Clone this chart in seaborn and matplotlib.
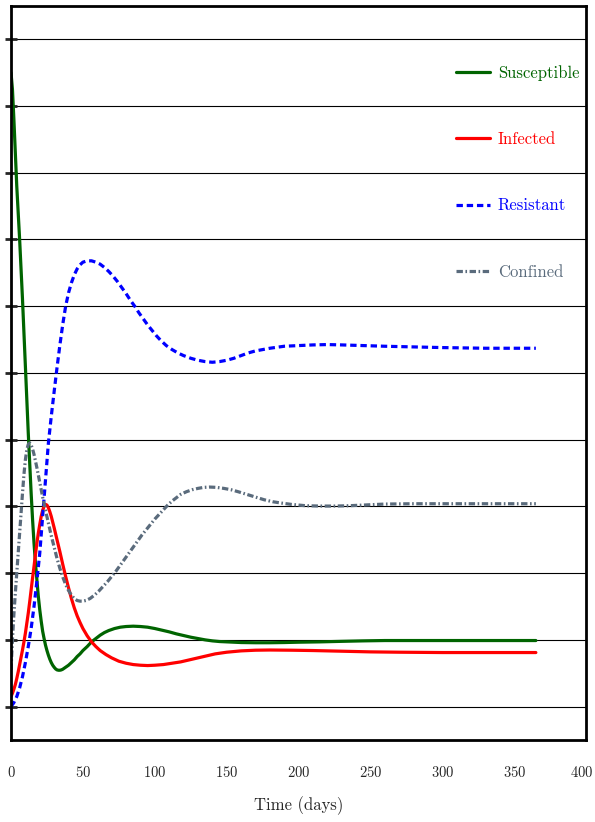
import numpy as np
import pandas as pd
import seaborn as sns
import matplotlib
matplotlib.use("Agg")
from matplotlib import pyplot as plt
from matplotlib import transforms

# values (time in days, population in grid units)
t_sus = [0, 1, 2, 3, 4, 5, 6, 7, 8, 9, 10, 11, 12, 13, 14, 15, 16, 17, 18, 19,
         20, 21, 22, 23, 24, 25, 26, 27, 28, 29, 30, 31, 32, 33, 34, 35, 36, 38, 40, 42,
         44, 46, 48, 50, 53, 56, 59, 62, 65, 68, 72, 76, 80, 85, 90, 95, 100, 105, 110, 115,
         120, 125, 130, 135, 140, 145, 150, 160, 170, 180, 190, 200, 215, 230, 245, 260, 280, 300, 330, 365]
sus = [9.5, 9.25, 8.8, 8.3, 7.8, 7.4, 7.0, 6.55, 6.1, 5.6, 5.1, 4.6, 4.1, 3.65, 3.2, 2.8, 2.45, 2.15, 1.9, 1.65,
       1.45, 1.28, 1.13, 1.02, 0.92, 0.84, 0.77, 0.71, 0.66, 0.62, 0.59, 0.565, 0.55, 0.545, 0.545, 0.55, 0.56, 0.59, 0.62, 0.66,
       0.70, 0.75, 0.79, 0.84, 0.9, 0.97, 1.02, 1.07, 1.11, 1.14, 1.17, 1.19, 1.2, 1.205, 1.2, 1.19, 1.17, 1.145, 1.12, 1.09,
       1.065, 1.04, 1.02, 1.0, 0.985, 0.975, 0.97, 0.96, 0.957, 0.957, 0.96, 0.965, 0.97, 0.978, 0.985, 0.99, 0.99, 0.99, 0.99, 0.99]

t_inf = [0, 1, 2, 3, 4, 5, 6, 7, 8, 9, 10, 11, 12, 13, 14, 15, 16, 17, 18, 19,
         20, 21, 22, 23, 24, 25, 26, 27, 28, 30, 32, 34, 36, 38, 40, 42, 44, 46, 48, 50,
         53, 56, 59, 62, 66, 70, 75, 80, 85, 90, 95, 100, 106, 112, 118, 124, 130, 136, 142, 150,
         160, 170, 180, 195, 210, 230, 250, 270, 300, 330, 365]
inf = [0.15, 0.2, 0.26, 0.33, 0.42, 0.52, 0.63, 0.74, 0.85, 0.97, 1.1, 1.25, 1.4, 1.57, 1.75, 1.93, 2.1, 2.28, 2.45, 2.6,
       2.73, 2.85, 2.94, 3.0, 3.03, 3.02, 2.98, 2.92, 2.85, 2.68, 2.5, 2.32, 2.13, 1.95, 1.78, 1.62, 1.48, 1.36, 1.26, 1.17,
       1.06, 0.97, 0.9, 0.84, 0.78, 0.73, 0.68, 0.65, 0.63, 0.62, 0.615, 0.62, 0.63, 0.65, 0.67, 0.7, 0.73, 0.76, 0.79, 0.815,
       0.835, 0.845, 0.848, 0.845, 0.84, 0.83, 0.82, 0.815, 0.81, 0.81, 0.81]

t_res = [0, 2, 4, 6, 8, 10, 12, 14, 16, 18, 20, 22, 24, 26, 28, 30, 32, 34, 36, 38,
         40, 42, 44, 46, 48, 50, 53, 56, 59, 62, 65, 68, 71, 74, 77, 80, 83, 86, 89, 92,
         95, 98, 101, 104, 108, 112, 116, 120, 125, 130, 135, 140, 145, 150, 155, 160, 165, 170, 180, 190,
         200, 210, 220, 230, 245, 260, 280, 300, 330, 365]
res = [0, 0.06, 0.15, 0.28, 0.45, 0.66, 0.9, 1.17, 1.5, 1.88, 2.3, 2.85, 3.4, 3.95, 4.35, 4.72, 5.08, 5.42, 5.73, 6.0,
       6.2, 6.35, 6.47, 6.56, 6.62, 6.66, 6.68, 6.68, 6.66, 6.63, 6.58, 6.52, 6.45, 6.37, 6.28, 6.19, 6.09, 6.0, 5.9, 5.81,
       5.72, 5.64, 5.56, 5.49, 5.41, 5.35, 5.3, 5.26, 5.22, 5.19, 5.17, 5.16, 5.17, 5.19, 5.22, 5.26, 5.3, 5.33, 5.37, 5.4,
       5.41, 5.42, 5.425, 5.42, 5.41, 5.4, 5.39, 5.38, 5.37, 5.37]

t_con = [0, 1, 2, 3, 4, 5, 6, 7, 8, 9, 10, 11, 12, 13, 14, 15, 16, 17, 18, 19,
         20, 21, 22, 23, 24, 26, 28, 30, 32, 34, 36, 38, 40, 42, 44, 46, 48, 50, 52, 55,
         58, 61, 64, 67, 70, 73, 76, 79, 82, 85, 88, 91, 94, 97, 100, 103, 106, 109, 112, 115,
         118, 122, 126, 130, 134, 138, 143, 148, 153, 158, 164, 170, 176, 182, 188, 195, 205, 215, 225, 235,
         245, 260, 280, 300, 330, 365]
con = [0.55, 1.0, 1.38, 1.7, 2.0, 2.3, 2.6, 2.9, 3.2, 3.48, 3.7, 3.85, 3.93, 3.95, 3.92, 3.86, 3.78, 3.68, 3.58, 3.47,
       3.36, 3.25, 3.14, 3.04, 2.94, 2.75, 2.56, 2.39, 2.22, 2.07, 1.94, 1.83, 1.74, 1.67, 1.62, 1.59, 1.58, 1.58, 1.59, 1.62,
       1.67, 1.73, 1.8, 1.87, 1.95, 2.03, 2.12, 2.21, 2.3, 2.39, 2.48, 2.57, 2.65, 2.73, 2.81, 2.88, 2.95, 3.02, 3.08, 3.13,
       3.18, 3.22, 3.25, 3.27, 3.285, 3.29, 3.285, 3.27, 3.25, 3.22, 3.18, 3.14, 3.1, 3.07, 3.05, 3.03, 3.01, 3.005, 3.005, 3.01,
       3.02, 3.035, 3.04, 3.04, 3.04, 3.04]

x_ticks = [0, 50, 100, 150, 200, 250, 300, 350, 400]
y_ticks = list(range(11))

sns.set_style("white")
plt.rcParams['font.family'] = ['cmr10', 'DejaVu Serif']
plt.rcParams['axes.formatter.use_mathtext'] = True

fig = plt.figure(figsize=(5.95, 8.22), dpi=100)
ax = fig.add_axes([0.0185, 0.0998, 0.9667, 0.893])

series = [
    ("Susceptible", t_sus, sus, "#006400", "-"),
    ("Infected", t_inf, inf, "#ff0000", "-"),
    ("Resistant", t_res, res, "#0000ff", (0, (2.0, 1.2))),
    ("Confined", t_con, con, "#5a6b7c", (0, (2.0, 0.8, 0.5, 0.8))),
]
for name, t, v, col, ls in series:
    df = pd.DataFrame({"time": t, "value": v})
    sns.lineplot(data=df, x="time", y="value", color=col, linestyle=ls, lw=2.3,
                 label=name, ax=ax)

ax.set_xlim(0, 400)
ax.set_ylim(-0.5, 10.5)
ax.set_xticks(x_ticks)
ax.set_yticks(y_ticks)
ax.set_yticklabels([])
ax.yaxis.grid(True, color="black", lw=0.8)
ax.xaxis.grid(False)
ax.tick_params(axis="x", direction="inout", length=20, width=2, labelsize=10.5, pad=8)
ax.tick_params(axis="y", direction="inout", length=8, width=2, left=True)
for s in ax.spines.values():
    s.set_linewidth(2)
    s.set_color("black")
ax.set_xlabel("Time (days)", fontsize=12, labelpad=12)
ax.set_ylabel("")

# nudge the last tick label so it stays inside the canvas
last = ax.get_xticklabels()[-1]
last.set_transform(last.get_transform() + transforms.ScaledTranslation(-3 / 72, 0, fig.dpi_scale_trans))

leg = ax.legend(loc="upper left", bbox_to_anchor=(0.774, 0.9195), frameon=False,
                fontsize=12, handlelength=2.0, handletextpad=0.5, labelspacing=3.06,
                borderaxespad=0, borderpad=0)
for txt, (name, t, v, col, ls) in zip(leg.get_texts(), series):
    txt.set_color(col)

fig.savefig("out.png", dpi=100)
